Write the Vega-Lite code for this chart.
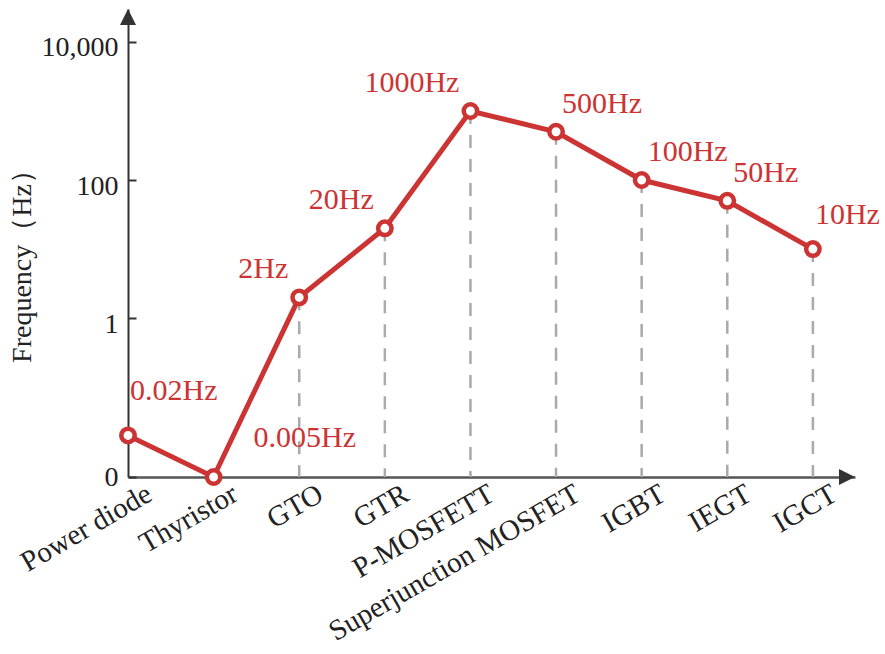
{
  "$schema": "https://vega.github.io/schema/vega-lite/v6.json",
  "width": 727,
  "height": 468,
  "autosize": {"type": "none"},
  "padding": {"left": 128, "top": 9, "right": 30, "bottom": 177},
  "background": "white",
  "config": {"view": {"stroke": null}, "font": "Liberation Serif"},
  "data": {
    "values": [
      {"device": "Power diode", "freq": 0.02, "label": "0.02Hz"},
      {"device": "Thyristor", "freq": 0.005, "label": "0.005Hz"},
      {"device": "GTO", "freq": 2, "label": "2Hz"},
      {"device": "GTR", "freq": 20, "label": "20Hz"},
      {"device": "P-MOSFETT", "freq": 1000, "label": "1000Hz"},
      {"device": "Superjunction MOSFET", "freq": 500, "label": "500Hz"},
      {"device": "IGBT", "freq": 100, "label": "100Hz"},
      {"device": "IEGT", "freq": 50, "label": "50Hz"},
      {"device": "IGCT", "freq": 10, "label": "10Hz"}
    ]
  },
  "layer": [
    {
      "transform": [{"filter": "datum.device != 'Power diode'"}],
      "mark": {"type": "rule", "color": "#aaaaaa", "strokeWidth": 2.5, "strokeDash": [13, 11]},
      "encoding": {
        "x": {"field": "device", "type": "nominal", "sort": null},
        "y": {"field": "freq", "type": "quantitative"},
        "y2": {"datum": 0.005}
      }
    },
    {
      "mark": {"type": "line", "color": "#cc3333", "strokeWidth": 5},
      "encoding": {
        "x": {
          "field": "device", "type": "nominal", "sort": null,
          "scale": {"type": "point", "padding": 0.246, "align": 0,
            "domain": ["Power diode", "Thyristor", "GTO", "GTR", "P-MOSFETT", "Superjunction MOSFET", "IGBT", "IEGT", "IGCT"]},
          "axis": {
            "title": null,
            "ticks": false,
            "domainColor": "#555555",
            "domainWidth": 2.5,
            "labelAngle": -30,
            "labelAlign": "right",
            "labelBaseline": "top",
            "labelOffset": 14,
            "labelPadding": 2,
            "labelLimit": 0,
            "labelFont": "Liberation Serif",
            "labelFontSize": 29,
            "labelColor": "#222222"
          }
        },
        "y": {
          "field": "freq", "type": "quantitative",
          "scale": {"type": "log", "domain": [0.005, 30000], "nice": false},
          "axis": {
            "values": [0.005, 1, 100, 10000],
            "labelExpr": "datum.value < 0.01 ? '0' : format(datum.value, ',')",
            "grid": false,
            "domainColor": "#333333",
            "domainWidth": 2,
            "tickColor": "#333333",
            "tickWidth": 2,
            "tickSize": -8,
            "labelPadding": 18,
            "labelFont": "Liberation Serif",
            "labelFontSize": 28,
            "labelColor": "#222222",
            "labelBaseline": "middle",
            "labelOffset": {"condition": {"test": "datum.value < 0.01", "value": 0}, "value": 6},
            "title": "Frequency（Hz）",
            "titleFont": "Liberation Serif",
            "titleFontSize": 28,
            "titleFontWeight": "normal",
            "titleColor": "#222222",
            "titleAngle": -90,
            "titleX": -106,
            "titleY": 250,
            "titleAlign": "center",
            "titleBaseline": "middle"
          }
        }
      }
    },
    {
      "mark": {"type": "point", "shape": "circle", "filled": true, "fill": "white", "stroke": "#cc3333", "strokeWidth": 4.5, "size": 180, "opacity": 1},
      "encoding": {
        "x": {"field": "device", "type": "nominal", "sort": null},
        "y": {"field": "freq", "type": "quantitative"}
      }
    },
    {
      "transform": [{"filter": {"field": "device", "oneOf": ["Superjunction MOSFET", "IGBT", "IEGT"]}}],
      "mark": {"type": "text", "align": "left", "baseline": "alphabetic", "dx": 6, "dy": -19, "font": "Liberation Serif", "fontSize": 30, "color": "#cc3333"},
      "encoding": {
        "x": {"field": "device", "type": "nominal", "sort": null},
        "y": {"field": "freq", "type": "quantitative"},
        "text": {"field": "label"}
      }
    },
    {
      "transform": [{"filter": "datum.device == 'IGCT'"}],
      "mark": {"type": "text", "align": "left", "baseline": "alphabetic", "dx": 2, "dy": -25, "font": "Liberation Serif", "fontSize": 30, "color": "#cc3333"},
      "encoding": {
        "x": {"field": "device", "type": "nominal", "sort": null},
        "y": {"field": "freq", "type": "quantitative"},
        "text": {"field": "label"}
      }
    },
    {
      "transform": [{"filter": {"field": "device", "oneOf": ["GTO", "GTR", "P-MOSFETT"]}}],
      "mark": {"type": "text", "align": "right", "baseline": "alphabetic", "dx": -11, "dy": -19, "font": "Liberation Serif", "fontSize": 30, "color": "#cc3333"},
      "encoding": {
        "x": {"field": "device", "type": "nominal", "sort": null},
        "y": {"field": "freq", "type": "quantitative"},
        "text": {"field": "label"}
      }
    },
    {
      "transform": [{"filter": "datum.device == 'Power diode'"}],
      "mark": {"type": "text", "align": "left", "baseline": "alphabetic", "dx": 2, "dy": -35, "font": "Liberation Serif", "fontSize": 30, "color": "#cc3333"},
      "encoding": {
        "x": {"field": "device", "type": "nominal", "sort": null},
        "y": {"field": "freq", "type": "quantitative"},
        "text": {"field": "label"}
      }
    },
    {
      "transform": [{"filter": "datum.device == 'Thyristor'"}],
      "mark": {"type": "text", "align": "left", "baseline": "alphabetic", "dx": 40, "dy": -30, "font": "Liberation Serif", "fontSize": 30, "color": "#cc3333"},
      "encoding": {
        "x": {"field": "device", "type": "nominal", "sort": null},
        "y": {"field": "freq", "type": "quantitative"},
        "text": {"field": "label"}
      }
    },
    {
      "data": {"values": [{"arrow": "y"}]},
      "mark": {"type": "point", "shape": "M0,0L-0.5,1L0.5,1Z", "filled": true, "color": "#333333", "size": 1024, "opacity": 1},
      "encoding": {
        "x": {"datum": "Power diode"},
        "y": {"datum": 30000}
      }
    },
    {
      "data": {"values": [{"arrow": "x"}]},
      "mark": {"type": "point", "shape": "M0,0L-1,-0.5L-1,0.5Z", "filled": true, "color": "#333333", "size": 1024, "opacity": 1},
      "encoding": {
        "x": {"value": "width"},
        "y": {"datum": 0.005}
      }
    }
  ]
}
